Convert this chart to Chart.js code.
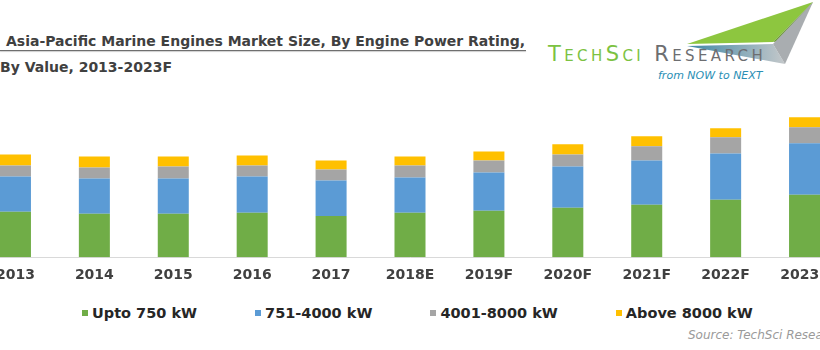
<!DOCTYPE html>
<html>
<head>
<meta charset="utf-8">
<script src="https://cdn.jsdelivr.net/npm/chart.js@4"></script>
<style>
  html, body { margin: 0; padding: 0; background: #fff; }
  body { width: 820px; height: 350px; position: relative; overflow: hidden; font-family: "DejaVu Sans", Verdana, sans-serif; }
  .title { position: absolute; left: 0; font-weight: bold; font-size: 14px; color: #404040; white-space: nowrap; }
  #t1 { top: 33px; left: 6px; }
  #t2 { top: 59px; left: 0; }
  #rule { position: absolute; left: 0; top: 50px; width: 526px; height: 0; border-top: 1px solid #6f6f6f; box-shadow: 0 1px 1px #c8c8c8; }
  #wrap { position: absolute; left: -24px; top: 100px; width: 868px; height: 194px; }
  #legend { position: absolute; left: 82px; top: 305px; display: flex; gap: 58px; white-space: nowrap; }
  #legend .item { display: flex; align-items: center; font-weight: bold; font-size: 14.5px; color: #262626; }
  #legend .box { width: 6px; height: 6px; margin-right: 4px; }
  #source { position: absolute; left: 688px; top: 328px; font-style: italic; font-size: 12px; color: #9a9a9a; white-space: nowrap; }
  #logo { position: absolute; left: 540px; top: 0; }
  #brand { position: absolute; left: 548px; top: 44px; font-size: 21px; font-variant: small-caps; letter-spacing: 3.4px; white-space: nowrap; line-height: 1; }
  #brand .g { color: #7cc242; }
  #brand .d { color: #6d6e71; }
  #tag { position: absolute; left: 658px; top: 69px; font-style: italic; font-size: 11px; color: #2b8fb5; white-space: nowrap; }
</style>
</head>
<body>
<div class="title" id="t1">Asia-Pacific Marine Engines Market Size, By Engine Power Rating,</div>
<div id="rule"></div>
<div class="title" id="t2">By Value, 2013-2023F</div>

<svg id="logo" width="280" height="90">
  <defs>
    <linearGradient id="bodyGrad" x1="0" y1="0" x2="1" y2="0">
      <stop offset="0" stop-color="#3f87a6"/>
      <stop offset="1" stop-color="#c4c8ca"/>
    </linearGradient>
  </defs>
  <polygon points="147,44 273,2 233,42" fill="#8dc63f"/>
  <polygon points="233,42 273,2 250,40" fill="#6f9c35"/>
  <polygon points="147,46 233,44 245,64" fill="url(#bodyGrad)"/>
  <polygon points="233,44 273,2 245,64" fill="#a9adb0"/>
</svg>
<div id="brand"><span class="g">TechSci</span> <span class="d">Research</span></div>
<div id="tag">from NOW to NEXT</div>

<div id="wrap"><canvas id="chart"></canvas></div>
<div id="legend"></div>
<div id="source">Source: TechSci Research</div>

<script>
const years = ["2013", "2014", "2015", "2016", "2017", "2018E", "2019F", "2020F", "2021F", "2022F", "2023F"];

const seriesNames = ["Upto 750 kW", "751-4000 kW", "4001-8000 kW", "Above 8000 kW"];
const seriesColors = ["#70ad47", "#5b9bd5", "#a5a5a5", "#ffc000"];

// relative units (no value axis shown)
const upto750   = [45, 43, 43, 44, 41, 44, 46, 49, 52, 57, 62];
const kw751to4000 = [35, 35, 35, 36, 35, 35, 38, 41, 44, 46, 51];
const kw4001to8000 = [11, 11, 12, 11, 11, 12, 12, 12, 14, 16, 16];
const above8000 = [11, 11, 10, 10, 9, 9, 9, 10, 10, 9, 10];

const seriesValues = [upto750, kw751to4000, kw4001to8000, above8000];

// legend (html, sits off-centre like the original)
const legendEl = document.getElementById("legend");
seriesNames.forEach((name, i) => {
  const item = document.createElement("div");
  item.className = "item";
  item.innerHTML = '<span class="box" style="background:' + seriesColors[i] + '"></span>' + name;
  legendEl.appendChild(item);
});

const chart = new Chart(document.getElementById("chart"), {
  type: "bar",
  data: {
    labels: years,
    datasets: seriesNames.map((name, i) => ({
      label: name,
      data: seriesValues[i],
      backgroundColor: seriesColors[i],
      borderWidth: 0,
      categoryPercentage: 1,
      barPercentage: 0.393
    }))
  },
  options: {
    animation: false,
    responsive: true,
    maintainAspectRatio: false,
    layout: { padding: 0 },
    plugins: {
      legend: { display: false },
      tooltip: { enabled: false }
    },
    scales: {
      x: {
        stacked: true,
        grid: { display: false, drawTicks: false },
        border: { display: true, color: "#d9d9d9", width: 1 },
        ticks: {
          autoSkip: false,
          maxRotation: 0,
          padding: 10,
          color: "#404040",
          font: { family: "DejaVu Sans", size: 14, weight: "bold" }
        }
      },
      y: {
        stacked: true,
        display: false,
        min: 0,
        max: 156
      }
    }
  }
});
</script>
</body>
</html>
